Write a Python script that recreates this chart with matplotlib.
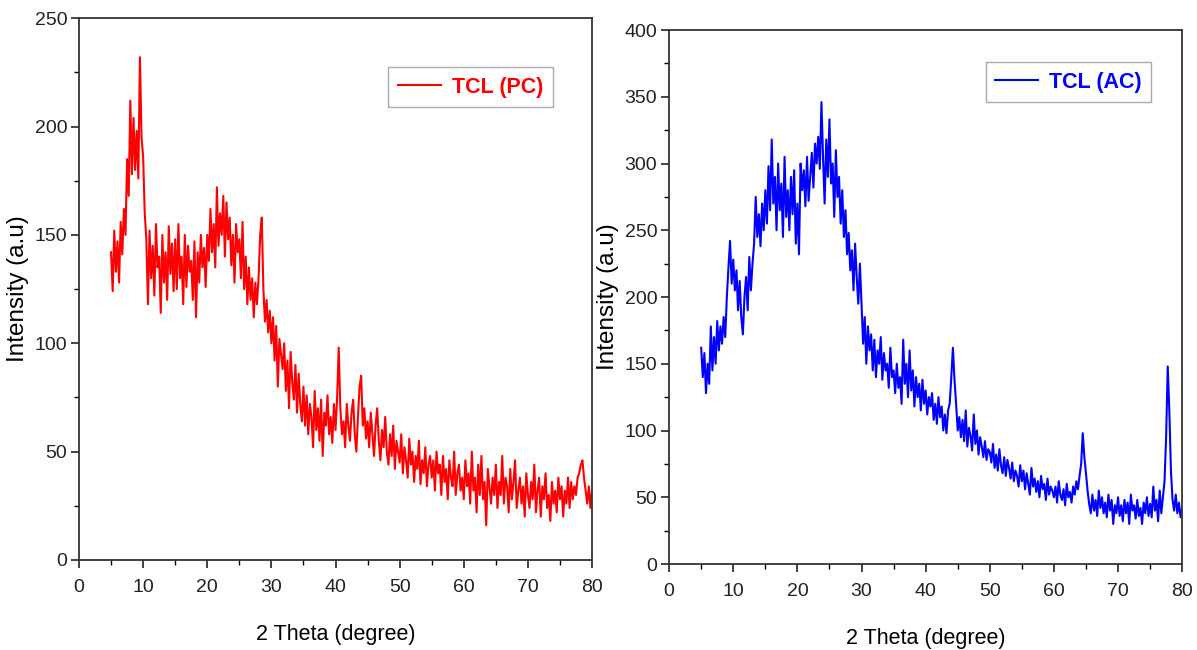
import matplotlib
matplotlib.use('Agg')
import matplotlib.pyplot as plt
import numpy as np
from matplotlib.ticker import MultipleLocator

plt.rcParams['font.family'] = ['Liberation Sans', 'DejaVu Sans']

# 2 theta grid (degrees), 0.25 deg step
two_theta = np.arange(5.0, 80.001, 0.25)

# TCL (PC) intensities
pc = [
    142, 124, 152, 133, 147, 128, 156, 141, 162, 150, 185, 168, 212, 178, 204, 180, 198, 176, 232, 195,
    186, 160, 148, 118, 152, 130, 145, 122, 155, 135, 140, 114, 150, 128, 142, 120, 154, 132, 146, 124,
    148, 125, 155, 130, 140, 118, 150, 126, 145, 133, 138, 120, 147, 112, 142, 128, 150, 135, 144, 126,
    150, 138, 162, 142, 155, 135, 172, 145, 160, 150, 168, 140, 165, 148, 158, 136, 150, 128, 155, 142,
    148, 130, 156, 125, 140, 118, 135, 120, 130, 112, 128, 118, 130, 150, 158, 125, 110, 120, 105, 115,
    100, 112, 92, 108, 80, 102, 95, 88, 100, 78, 92, 70, 96, 82, 74, 90, 68, 86, 72, 64,
    80, 62, 76, 58, 72, 66, 52, 78, 60, 70, 55, 74, 48, 68, 62, 76, 58, 66, 54, 72,
    60, 75, 98, 70, 58, 64, 52, 72, 62, 55, 68, 74, 58, 50, 66, 80, 85, 62, 70, 56,
    64, 52, 68, 58, 48, 62, 70, 55, 46, 60, 52, 66, 50, 44, 58, 48, 62, 42, 55, 50,
    45, 58, 40, 52, 46, 38, 56, 44, 50, 36, 48, 42, 55, 35, 46, 40, 52, 34, 44, 48,
    38, 46, 32, 50, 40, 44, 30, 48, 36, 42, 28, 46, 38, 34, 50, 30, 40, 44, 32, 38,
    28, 46, 34, 40, 26, 50, 32, 38, 22, 44, 30, 48, 28, 36, 16, 42, 34, 26, 38, 30,
    44, 24, 36, 30, 48, 26, 38, 34, 22, 42, 28, 36, 46, 24, 32, 38, 26, 34, 20, 40,
    30, 24, 36, 28, 44, 22, 32, 38, 20, 34, 28, 40, 24, 30, 18, 36, 26, 32, 22, 38,
    28, 34, 20, 32, 26, 38, 24, 36, 28, 34, 30, 38, 40, 44, 46, 38, 32, 26, 34, 24,
    32,
]

# TCL (AC) intensities
ac = [
    162, 140, 158, 128, 150, 135, 178, 145, 170, 150, 182, 160, 178, 165, 185, 170, 200, 222, 242, 210,
    228, 205, 220, 190, 212, 185, 172, 200, 215, 190, 230, 205, 225, 240, 275, 245, 262, 238, 270, 250,
    280, 255, 298, 265, 318, 270, 290, 250, 300, 265, 285, 245, 305, 260, 280, 250, 290, 262, 295, 240,
    270, 232, 300, 280, 295, 268, 305, 272, 290, 308, 282, 315, 300, 320, 296, 346, 305, 270, 318, 290,
    333, 285, 300, 260, 310, 275, 290, 255, 280, 245, 265, 232, 248, 220, 235, 205, 240, 215, 195, 225,
    195, 165, 185, 150, 178, 160, 172, 145, 168, 140, 160, 150, 170, 138, 158, 145, 150, 132, 162, 140,
    145, 128, 150, 132, 140, 120, 168, 135, 150, 125, 160, 130, 145, 118, 140, 125, 135, 115, 138, 120,
    130, 112, 125, 118, 128, 108, 120, 105, 125, 110, 118, 100, 112, 98, 115, 120, 140, 162, 138, 120,
    100, 110, 95, 108, 92, 115, 88, 102, 96, 85, 112, 90, 100, 82, 95, 88, 80, 92, 78, 86,
    84, 76, 90, 72, 82, 70, 86, 74, 68, 80, 66, 78, 72, 64, 76, 62, 70, 66, 58, 74,
    62, 70, 56, 68, 60, 52, 72, 58, 64, 54, 62, 50, 66, 56, 60, 48, 64, 52, 58, 55,
    50, 58, 46, 62, 52, 48, 56, 44, 60, 50, 54, 46, 58, 52, 62, 56, 66, 75, 98, 80,
    68, 55, 45, 38, 52, 40, 48, 36, 55, 42, 50, 38, 46, 35, 52, 40, 48, 30, 44, 38,
    50, 36, 44, 32, 48, 38, 46, 30, 52, 40, 44, 34, 48, 36, 42, 30, 46, 38, 50, 36,
    45, 35, 58, 40, 48, 32, 55, 38, 50, 62, 95, 148, 115, 70, 48, 40, 52, 38, 46, 35,
    42,
]

fig = plt.figure(figsize=(11.97, 6.5), dpi=100)
ax1 = fig.add_axes([0.066, 0.1385, 0.4286, 0.8335])
ax2 = fig.add_axes([0.559, 0.1323, 0.4286, 0.8215])

panels = [
    (ax1, pc, 'red', 'TCL (PC)', 250, 50, (0.924, 0.91)),
    (ax2, ac, 'blue', 'TCL (AC)', 400, 50, (0.94, 0.94)),
]

for ax, y, col, lab, ymax, ystep, legpos in panels:
    ax.plot(two_theta, y, color=col, lw=1.5, label=lab)
    ax.set_xlim(0, 80)
    ax.set_ylim(0, ymax)
    ax.xaxis.set_major_locator(MultipleLocator(10))
    ax.xaxis.set_minor_locator(MultipleLocator(5))
    ax.yaxis.set_major_locator(MultipleLocator(ystep))
    ax.yaxis.set_minor_locator(MultipleLocator(ystep / 2))
    ax.tick_params(which='major', direction='out', length=6, width=1.2, labelsize=14,
                   colors='#222222')
    ax.tick_params(which='minor', direction='out', length=3.5, width=1.0)
    ax.tick_params(axis='x', pad=8)
    ax.tick_params(axis='y', pad=2.5)
    for s in ax.spines.values():
        s.set_linewidth(1.3)
        s.set_color('#333333')
    ax.set_xlabel('2 Theta (degree)', fontsize=15.5, labelpad=20)
    ax.set_ylabel('Intensity (a.u)', fontsize=17.5, labelpad=4)
    leg = ax.legend(loc='upper right', bbox_to_anchor=legpos, borderaxespad=0, fontsize=15.5,
                    fancybox=False, framealpha=1, edgecolor='#aaaaaa',
                    handlelength=2.0, borderpad=0.45, handletextpad=0.5)
    for t in leg.get_texts():
        t.set_color(col)
        t.set_fontweight('bold')

fig.savefig('out.png')
